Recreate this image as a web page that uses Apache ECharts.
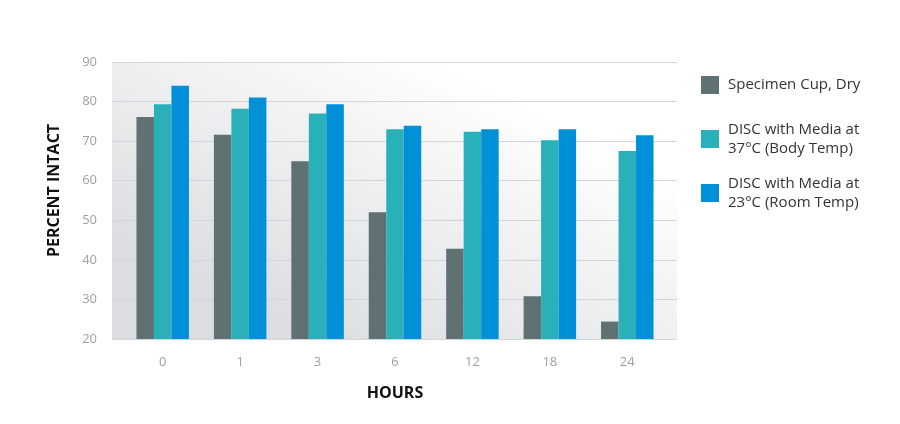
<!DOCTYPE html>
<html lang="en">
<head>
    <meta charset="UTF-8">
    <title>Percent Intact</title>
    <script src="https://cdn.jsdelivr.net/npm/echarts@6/dist/echarts.min.js"></script>
    <style>
        html, body { margin: 0; padding: 0; background: #ffffff; }
        #main { width: 900px; height: 424px; }
    </style>
</head>
<body>
<div id="main"></div>

<script type="text/javascript">
    var hours = ['0', '1', '3', '6', '12', '18', '24'];
    var cupDry = [76.1, 71.6, 64.9, 52.0, 42.8, 30.8, 24.4];
    var disc37 = [79.3, 78.2, 77.0, 73.0, 72.4, 70.2, 67.5];
    var disc23 = [84.0, 81.0, 79.3, 73.9, 73.0, 73.0, 71.5];

    var seriesNames = [
        'Specimen Cup, Dry',
        'DISC with Media at\n37°C (Body Temp)',
        'DISC with Media at\n23°C (Room Temp)'
    ];

    var myChart = echarts.init(document.getElementById('main'));

    var legendText = {
        color: '#333333',
        fontSize: 15,
        lineHeight: 19,
        fontFamily: 'Open Sans',
        padding: [0, 0, 0, 4]
    };

    function oneLegend(name, top) {
        return {
            data: [name],
            orient: 'vertical',
            left: 696,
            top: top,
            itemWidth: 18,
            itemHeight: 18,
            icon: 'rect',
            selectedMode: false,
            textStyle: legendText
        };
    }

    var option = {
        backgroundColor: '#ffffff',
        color: ['#5f7173', '#2ab0b8', '#0090d8'],
        textStyle: { fontFamily: 'Open Sans' },
        legend: [
            oneLegend(seriesNames[0], 70.5),
            oneLegend(seriesNames[1], 115),
            oneLegend(seriesNames[2], 169)
        ],
        grid: [
            {
                left: 112, right: 223, top: 62, bottom: 85,
                show: true,
                borderWidth: 0,
                backgroundColor: {
                    type: 'linear',
                    x: 0.6, y: 0, x2: 0.35, y2: 1,
                    colorStops: [
                        { offset: 0, color: '#ffffff' },
                        { offset: 1, color: '#dcdde0' }
                    ]
                }
            },
            { left: 124, right: 234, top: 62, bottom: 85 }
        ],
        xAxis: [
            { type: 'value', gridIndex: 0, show: false, min: 0, max: 1 },
            {
                type: 'category',
                gridIndex: 1,
                data: hours,
                axisLine: { show: false },
                axisTick: { show: false },
                axisLabel: { color: '#a0a0a0', fontSize: 13, margin: 17 },
                name: 'HOURS',
                nameLocation: 'middle',
                nameGap: 46,
                nameTextStyle: { color: '#111111', fontSize: 16, fontWeight: 'bold' }
            }
        ],
        yAxis: [
            {
                type: 'value',
                gridIndex: 0,
                min: 20,
                max: 90,
                interval: 10,
                axisLine: { show: false },
                axisTick: { show: false },
                axisLabel: { color: '#a0a0a0', fontSize: 13, margin: 15 },
                splitLine: { lineStyle: { color: '#d2d6d8', width: 1 } },
                name: 'PERCENT INTACT',
                nameLocation: 'middle',
                nameGap: 50,
                nameTextStyle: {
                    color: '#111111', fontSize: 16, fontWeight: 'bold',
                    padding: [0, 0, 0, 20]
                }
            },
            { type: 'value', gridIndex: 1, min: 20, max: 90, show: false }
        ],
        series: [
            { name: seriesNames[0], type: 'bar', xAxisIndex: 1, yAxisIndex: 1, data: cupDry, barWidth: 17.5, barGap: '0%' },
            { name: seriesNames[1], type: 'bar', xAxisIndex: 1, yAxisIndex: 1, data: disc37, barWidth: 17.5, barGap: '0%' },
            { name: seriesNames[2], type: 'bar', xAxisIndex: 1, yAxisIndex: 1, data: disc23, barWidth: 17.5, barGap: '0%' }
        ]
    };

    myChart.setOption(option);
</script>
</body>
</html>
